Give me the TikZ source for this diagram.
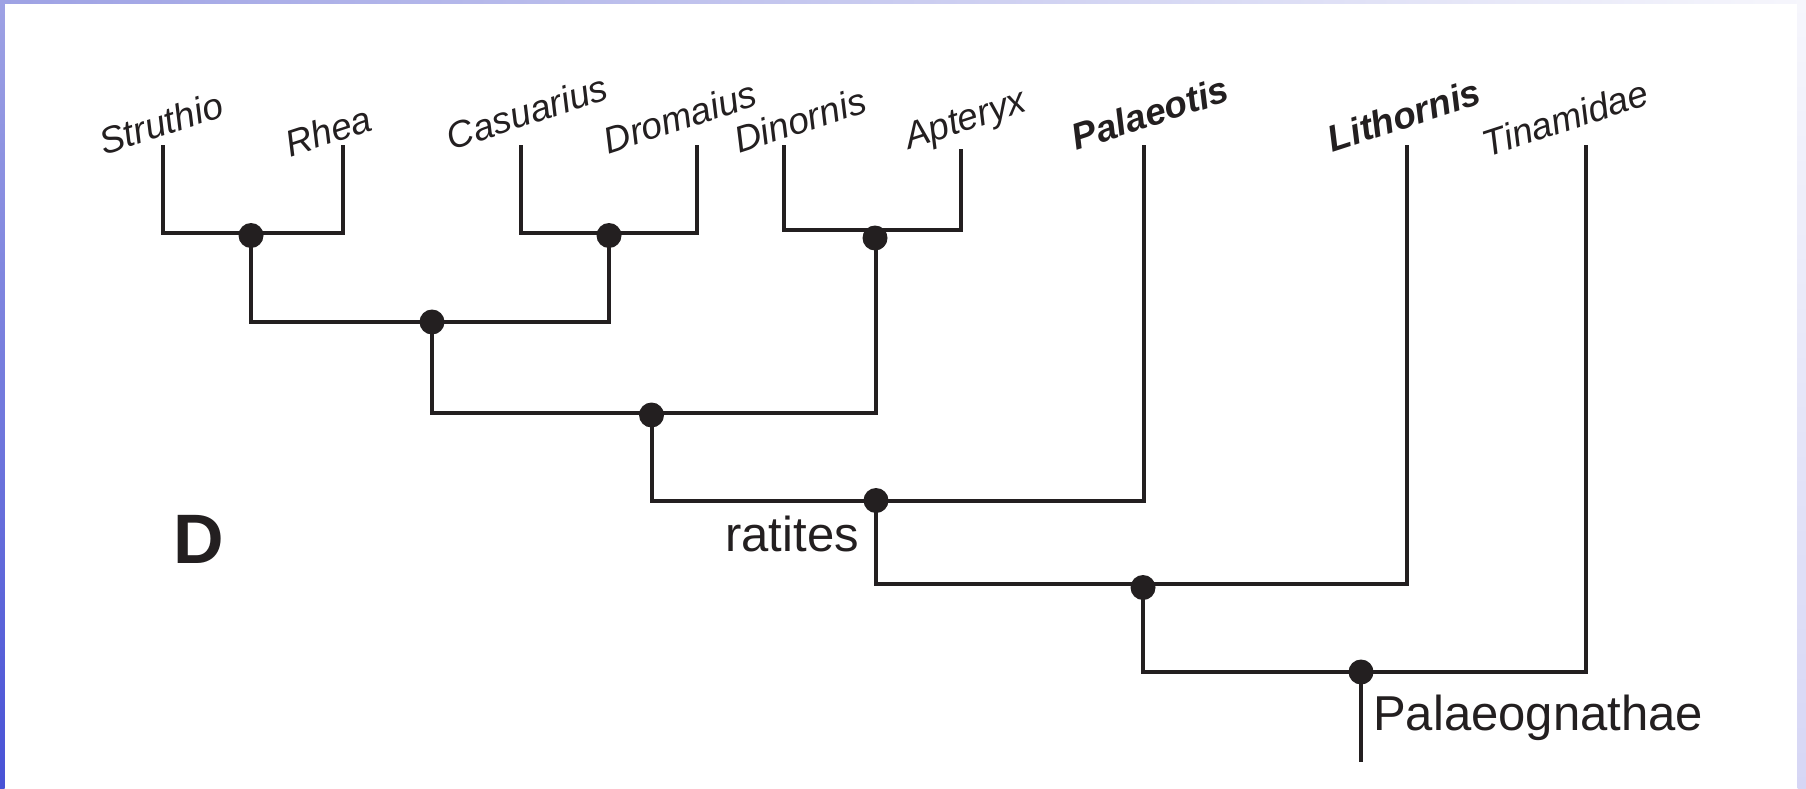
\documentclass[tikz,border=0pt]{standalone}
\usepackage{fontspec}
\setmainfont{Liberation Sans}
\definecolor{ink}{RGB}{35,31,32}
\definecolor{bgtl}{RGB}{158,162,228}
\definecolor{bgbl}{RGB}{72,82,214}
\definecolor{bgtr}{RGB}{246,246,252}
\definecolor{bgbr}{RGB}{214,214,245}
\begin{document}
\begin{tikzpicture}[x=1pt,y=-1pt,
  branch/.style={draw=ink, line width=4pt, line cap=butt, line join=miter},
  dot/.style={circle, fill=ink, inner sep=0pt, minimum size=25pt},
  taxon/.style={font=\fontsize{37}{40}\selectfont\itshape, rotate=18, inner sep=0pt, text=ink},
  taxonb/.style={font=\fontsize{37}{40}\selectfont\bfseries\itshape, rotate=18, inner sep=0pt, text=ink},
  clade/.style={font=\fontsize{49}{52}\selectfont, inner sep=0pt, text=ink}]
\useasboundingbox (0,0) rectangle (1806,789);
% background
\fill[white] (0,0) rectangle (1806,789);
\shade[top color=bgtl, bottom color=bgbl] (0,0) rectangle (4.5,789);
\shade[top color=bgtr, bottom color=bgbr] (1797.7,0) rectangle (1806,789);
\shade[left color=bgtl, right color=bgtr] (0,0) rectangle (1806,4);

% leaf tips
\coordinate (s1) at (162.5,145);
\coordinate (s2) at (342.5,145);
\coordinate (s3) at (521,145);
\coordinate (s4) at (697,145);
\coordinate (s5) at (784,145);
\coordinate (s6) at (961,149);
\coordinate (s7) at (1143.5,145);
\coordinate (s8) at (1406.5,145);
\coordinate (s9) at (1585.5,145);
% junctions
\coordinate (j1) at (251,233);
\coordinate (j2) at (609,233);
\coordinate (j3) at (876,230);
\coordinate (j4) at (432,321.5);
\coordinate (j5) at (651.5,413);
\coordinate (j6) at (876,500.5);
\coordinate (j7) at (1143,584);
\coordinate (j8) at (1361,672);
\coordinate (root) at (1361,762);

% branches
\path[branch] (s1) |- (j1) -| (s2);
\path[branch] (s3) |- (j2) -| (s4);
\path[branch] (s5) |- (j3) -| (s6);
\path[branch] (j1) |- (j4) -| (j2);
\path[branch] (j4) |- (j5) -| (j3);
\path[branch] (j5) |- (j6) -| (s7);
\path[branch] (j6) |- (j7) -| (s8);
\path[branch] (j7) |- (j8) -| (s9);
\path[branch] (j8) -- (root);

% node dots
\node[dot] (d1) at (251,235.5) {};
\node[dot] (d2) at (609,235.5) {};
\node[dot] (d3) at (875,238) {};
\node[dot] (d4) at (432,322) {};
\node[dot] (d5) at (651.5,415) {};
\node[dot] (d6) at (876,500.5) {};
\node[dot] (d7) at (1143,587.5) {};
\node[dot] (d8) at (1361,672) {};

% taxon labels
\node[taxon] (tStruthio) at (161,123) {Struthio};
\node[taxon] (tRhea) at (328,131) {Rhea};
\node[taxon] (tCasuarius) at (527,112) {Casuarius};
\node[taxon] (tDromaius) at (680,117) {Dromaius};
\node[taxon] (tDinornis) at (800,120) {Dinornis};
\node[taxon] (tApteryx) at (966,122) {Apteryx};
\node[taxonb] (tPalaeotis) at (1150,113) {Palaeotis};
\node[taxonb] (tLithornis) at (1404,115) {Lithornis};
\node[taxon] (tTinamidae) at (1565,118) {Tinamidae};

% clade labels
\node[clade, anchor=base east] (ratites) at (859,551) {ratites};
\node[clade, anchor=base west] (palaeo) at (1373,730) {Palaeognathae};
\node[font=\fontsize{70}{72}\selectfont\bfseries, inner sep=0pt, text=ink, anchor=base west] (panel) at (173,563) {D};
\end{tikzpicture}
\end{document}
